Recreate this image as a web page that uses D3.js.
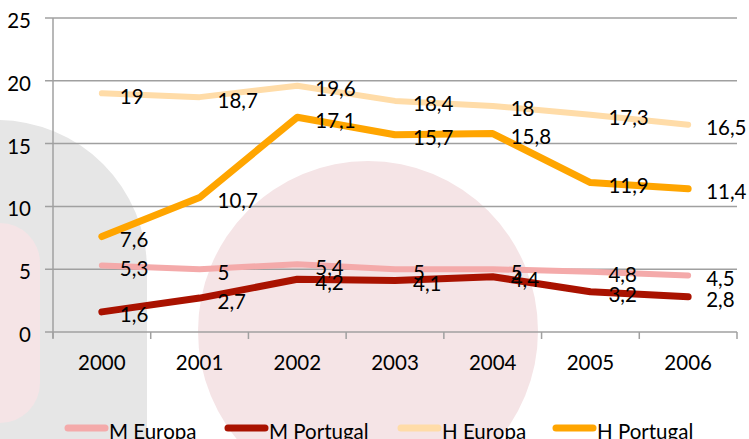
<!DOCTYPE html>
<html>
<head>
<meta charset="utf-8">
<script src="https://cdn.jsdelivr.net/npm/d3@7"></script>
<style>
  html, body { margin: 0; padding: 0; background: #fff; overflow: hidden; }
  svg { display: block; font-family: Lato, "Open Sans", sans-serif; }
</style>
</head>
<body>
<div id="canvas"></div>
<script>
// anos
const years = ["2000", "2001", "2002", "2003", "2004", "2005", "2006"];
// séries
const seriesNames = ["M Europa", "M Portugal", "H Europa", "H Portugal"];
const mEuropa = [5.3, 5, 5.4, 5, 5, 4.8, 4.5];
const mPortugal = [1.6, 2.7, 4.2, 4.1, 4.4, 3.2, 2.8];
const hEuropa = [19, 18.7, 19.6, 18.4, 18, 17.3, 16.5];
const hPortugal = [7.6, 10.7, 17.1, 15.7, 15.8, 11.9, 11.4];
const yTicks = [0, 5, 10, 15, 20, 25];

const colors = ["#f4aaaa", "#a91200", "#ffdca8", "#ffa500"];
const widths = [6, 7, 6, 7];
const series = [mEuropa, mPortugal, hEuropa, hPortugal].map((v, i) => ({
  name: seriesNames[i], values: v, color: colors[i], width: widths[i]
}));

const W = 749, H = 439;
const FS = 20.5;
const svg = d3.select("#canvas").append("svg")
  .attr("width", W).attr("height", H);

// formas de fundo
const bg = svg.append("g");
bg.append("rect")
  .attr("x", -155).attr("y", 120).attr("width", 302).attr("height", 500)
  .attr("rx", 150).attr("fill", "#e6e6e6");
bg.append("rect")
  .attr("x", -40).attr("y", 223).attr("width", 80).attr("height", 200)
  .attr("rx", 40).attr("fill", "#f5e4e6");
bg.append("circle")
  .attr("cx", 368).attr("cy", 331).attr("r", 170)
  .attr("fill", "#f5e4e6");

const x = d3.scaleBand().domain(years).range([53, 737]);
const y = d3.scaleLinear().domain([0, 25]).range([332, 18]);

// grelha
svg.append("g")
  .selectAll("line")
  .data(yTicks)
  .join("line")
  .attr("x1", 45).attr("x2", 737)
  .attr("y1", d => y(d)).attr("y2", d => y(d))
  .attr("stroke", "#a0a0a0").attr("stroke-width", 1.5);

// eixo y
svg.append("line")
  .attr("x1", 53).attr("x2", 53).attr("y1", y(25)).attr("y2", y(0) + 6)
  .attr("stroke", "#a0a0a0").attr("stroke-width", 1.5);
svg.append("g")
  .selectAll("text")
  .data(yTicks)
  .join("text")
  .attr("x", 31).attr("y", d => y(d) + 10)
  .attr("text-anchor", "end")
  .attr("font-size", FS).attr("fill", "#000")
  .text(d => d);

// eixo x
const edges = years.map(d => x(d)).concat([x(years[years.length - 1]) + x.bandwidth()]);
svg.append("g")
  .selectAll("line")
  .data(edges)
  .join("line")
  .attr("x1", d => d).attr("x2", d => d)
  .attr("y1", y(0)).attr("y2", y(0) + 7)
  .attr("stroke", "#a0a0a0").attr("stroke-width", 1.5);
svg.append("g")
  .selectAll("text")
  .data(years)
  .join("text")
  .attr("x", d => x(d) + x.bandwidth() / 2).attr("y", 370)
  .attr("text-anchor", "middle")
  .attr("font-size", FS).attr("fill", "#000")
  .text(d => d);

// linhas
const line = d3.line()
  .x((d, i) => x(years[i]) + x.bandwidth() / 2)
  .y(d => y(d));
svg.append("g")
  .selectAll("path")
  .data(series)
  .join("path")
  .attr("d", d => line(d.values))
  .attr("fill", "none")
  .attr("stroke", d => d.color)
  .attr("stroke-width", d => d.width)
  .attr("stroke-linecap", "round")
  .attr("stroke-linejoin", "round");

// rótulos
const fmt = v => String(v).replace(".", ",");
series.forEach(s => {
  svg.append("g")
    .selectAll("text")
    .data(s.values)
    .join("text")
    .attr("x", (d, i) => x(years[i]) + x.bandwidth() / 2 + 18)
    .attr("y", d => y(d) + 10.5)
    .attr("font-size", FS).attr("fill", "#000")
    .text(fmt);
});

// legenda
const legX = [65, 225, 398, 553];
const leg = svg.append("g")
  .selectAll("g")
  .data(series)
  .join("g")
  .attr("transform", (d, i) => `translate(${legX[i]},428)`);
leg.append("line")
  .attr("x1", 3).attr("x2", 40)
  .attr("stroke", d => d.color).attr("stroke-width", 7)
  .attr("stroke-linecap", "round");
leg.append("text")
  .attr("x", 44).attr("y", 11)
  .attr("font-size", FS).attr("fill", "#000")
  .text(d => d.name);
</script>
</body>
</html>
